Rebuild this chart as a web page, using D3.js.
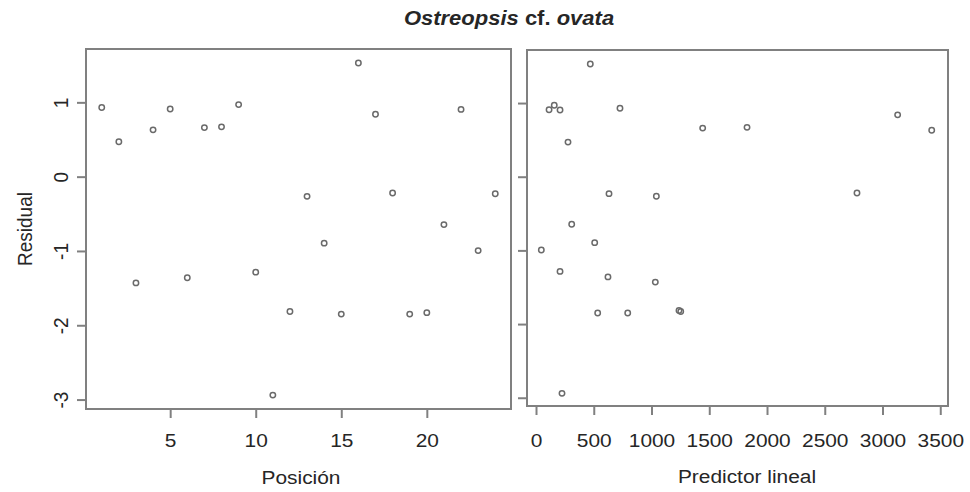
<!DOCTYPE html>
<html>
<head>
<meta charset="utf-8">
<script src="https://cdn.jsdelivr.net/npm/d3@7"></script>
<style>
  body { margin: 0; background: #fff; }
  svg { display: block; }
  text { font-family: "Liberation Sans", Arial, sans-serif; fill: #262626; }
</style>
</head>
<body>
<svg id="chart" width="970" height="492"></svg>
<script>
// Residuals of the Ostreopsis cf. ovata model, by sample position and by linear predictor
const position = [1, 2, 3, 4, 5, 6, 7, 8, 9, 10, 11, 12, 13, 14, 15, 16, 17, 18, 19, 20, 21, 22, 23, 24];
const residual = [0.93, 0.47, -1.43, 0.63, 0.91, -1.36, 0.66, 0.67, 0.97, -1.285, -2.94, -1.815,
                  -0.265, -0.895, -1.85, 1.53, 0.84, -0.22, -1.85, -1.83, -0.645, 0.905, -0.995, -0.23];
const predictor = [727, 277, 1033, 3426, 113, 623, 1443, 1827, 158, 208, 225, 1238,
                   1042, 508, 534, 470, 3131, 2779, 794, 1253, 309, 208, 46, 632];

const residualTicks = [1, 0, -1, -2, -3];
const positionTicks = [5, 10, 15, 20];
const predictorTicks = [0, 500, 1000, 1500, 2000, 2500, 3000, 3500];

const titleParts = [
  { text: "Ostreopsis", italic: true },
  { text: " cf. ", italic: false },
  { text: "ovata", italic: true }
];
const yLabel = "Residual";
const xLabelLeft = "Posición";
const xLabelRight = "Predictor lineal";

const svg = d3.select("#chart");
const lineColor = "#808080";
const pointColor = "#6a6a6a";
const stretch = 1.1;   // horizontally widened lettering
const plain = d => String(d);   // plain hyphen-minus for negatives

// Left panel scales
const xPos = d3.scaleLinear().domain([0.08, 24.92]).range([86, 511]);
const yLeft = d3.scaleLinear().domain([-3.127, 1.718]).range([409, 49]);
// Right panel scales
const xPred = d3.scaleLinear().domain([-78, 3567]).range([527, 948]);
const yRight = d3.scaleLinear().domain([-3.112, 1.72]).range([406, 50]);

function styleAxis(g) {
  g.select(".domain").remove();
  g.selectAll(".tick line").attr("stroke", lineColor).attr("stroke-width", 2);
  g.selectAll(".tick text").attr("fill", "#262626").attr("font-size", 19);
}

function panel(x, y, xs, ticksX, labelsY, xName, xNameX, xNameY) {
  const [x0, x1] = x.range();
  const [y0, y1] = y.range();

  // bottom axis
  const gx = svg.append("g")
    .attr("transform", `translate(0,${y0})`)
    .call(d3.axisBottom(x).tickValues(ticksX).tickSize(9).tickSizeOuter(0).tickFormat(plain));
  styleAxis(gx);
  gx.selectAll(".tick text")
    .attr("y", 0).attr("dy", 0)
    .attr("transform", `translate(0,${447 - y0}) scale(${stretch},1)`)
    .attr("text-anchor", "middle");

  // left axis
  const gy = svg.append("g")
    .attr("transform", `translate(${x0},0)`)
    .call(d3.axisLeft(y).tickValues(residualTicks).tickSize(9).tickSizeOuter(0)
      .tickFormat(labelsY ? plain : () => ""));
  styleAxis(gy);
  gy.selectAll(".tick text")
    .attr("x", 0).attr("dy", 0)
    .attr("text-anchor", "middle")
    .attr("transform", `translate(-18,0) rotate(-90) scale(1,${stretch})`);

  // frame
  svg.append("rect")
    .attr("x", x0).attr("y", y1)
    .attr("width", x1 - x0).attr("height", y0 - y1)
    .attr("fill", "none").attr("stroke", lineColor).attr("stroke-width", 2);

  // points
  svg.append("g").selectAll("circle")
    .data(residual.map((r, i) => [xs[i], r]))
    .join("circle")
    .attr("cx", d => x(d[0]))
    .attr("cy", d => y(d[1]))
    .attr("r", 2.7)
    .attr("fill", "none")
    .attr("stroke", pointColor)
    .attr("stroke-width", 1.5);

  // axis title
  svg.append("text")
    .attr("transform", `translate(${xNameX},${xNameY}) scale(${stretch},1)`)
    .attr("text-anchor", "middle")
    .attr("font-size", 19)
    .text(xName);
}

panel(xPos, yLeft, position, positionTicks, true, xLabelLeft, 301, 484);
panel(xPred, yRight, predictor, predictorTicks, false, xLabelRight, 747, 483);

// y axis title
svg.append("text")
  .attr("transform", `translate(32,229) rotate(-90) scale(1,${stretch})`)
  .attr("text-anchor", "middle")
  .attr("font-size", 19)
  .text(yLabel);

// main title
const title = svg.append("text")
  .attr("transform", `translate(509,25) scale(${stretch},1)`)
  .attr("text-anchor", "middle")
  .attr("font-size", 20)
  .attr("font-weight", "bold")
  .attr("fill", "#111");
title.selectAll("tspan")
  .data(titleParts)
  .join("tspan")
  .attr("font-style", d => d.italic ? "italic" : "normal")
  .style("white-space", "pre")
  .text(d => d.text);
</script>
</body>
</html>
